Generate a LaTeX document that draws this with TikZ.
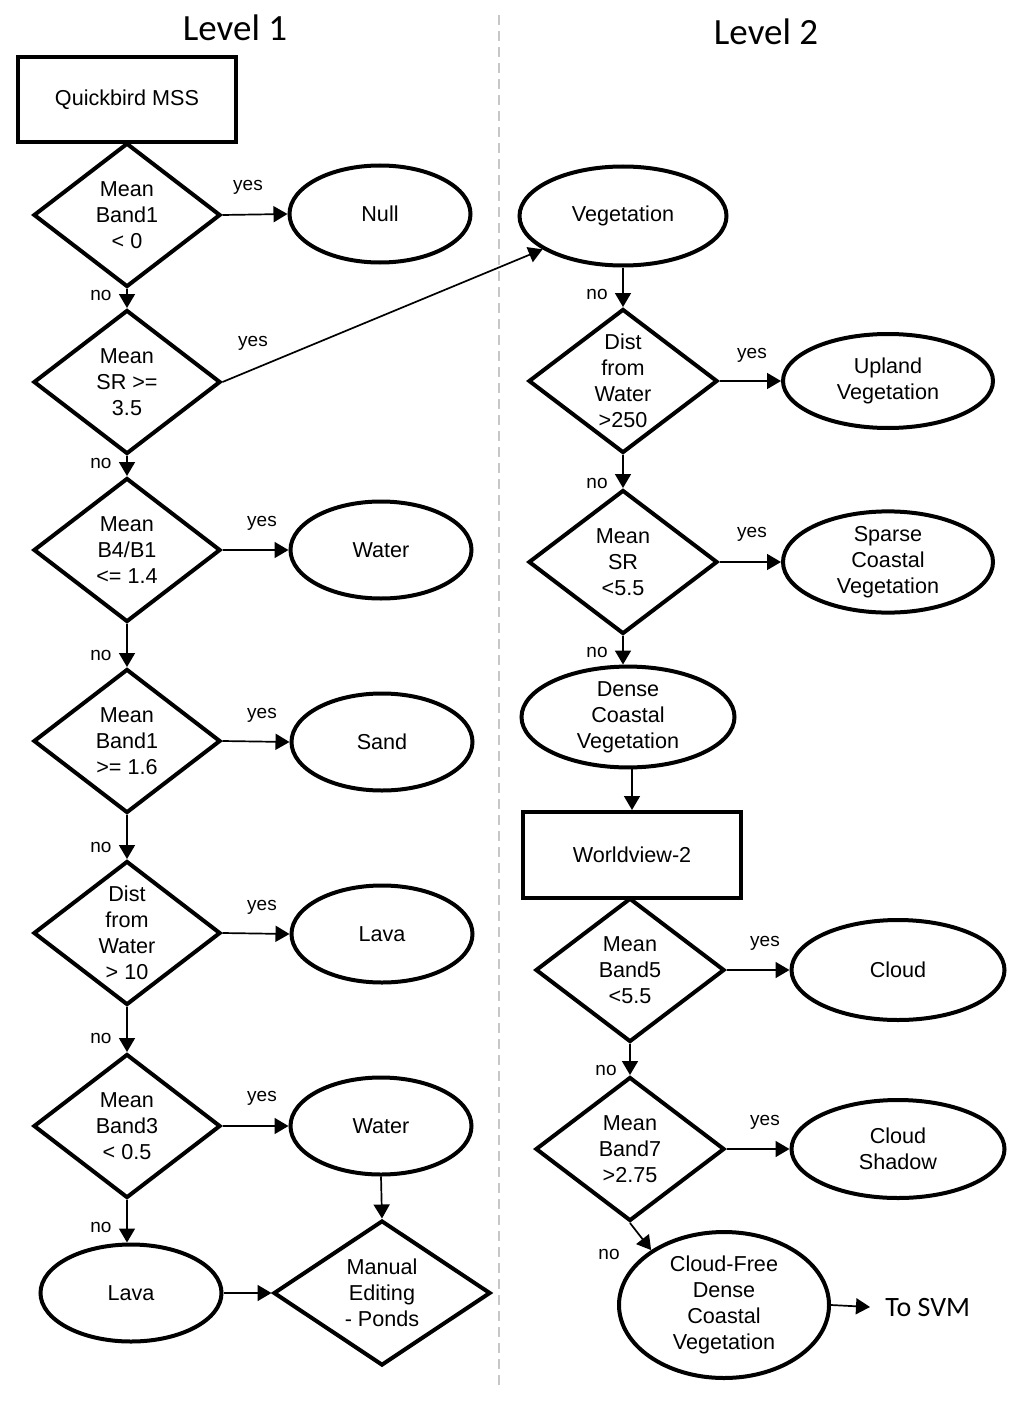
\documentclass[tikz,border=0pt]{standalone}
\usepackage{fontspec}
\setmainfont{Liberation Sans}
\newfontfamily\calib{Carlito}
\usetikzlibrary{shapes.geometric,arrows.meta}
\begin{document}
\begin{tikzpicture}[x=0.5pt,y=-0.5pt,
  base/.style={draw, line width=2pt, inner sep=0pt, align=center, font=\fontsize{10.8}{13}\selectfont},
  dec/.style={base, diamond, aspect=1.3, minimum width=93.5pt, minimum height=72pt},
  term/.style={base, ellipse, minimum width=90.5pt, minimum height=48.5pt},
  box/.style={base, rectangle, minimum width=109pt, minimum height=42.5pt},
  conn/.style={line width=0.85pt, -{Triangle[length=7pt,width=8pt]}},
  lbl/.style={font=\fontsize{9.5}{11}\selectfont, inner sep=0pt},
  title/.style={font=\calib\fontsize{18.5}{22}\selectfont, inner sep=0pt}]
\useasboundingbox (0,0) rectangle (1024,1407);

% divider
\coordinate (divtop) at (499,15);
\coordinate (divbot) at (499,1390);
\draw[black!22, line width=0.75pt, dash pattern=on 5pt off 3pt] (divtop) -- (divbot);

% titles
\node[title] (lev1) at (235,28) {Level 1};
\node[title] (lev2) at (766,32) {Level 2};

% ---------- Level 1 ----------
\node[box] (qb) at (127,100) {Quickbird MSS};
\node[dec] (d1) at (127,215) {Mean\\Band1\\< 0};
\node[term] (null) at (380,214) {Null};
\node[dec] (d2) at (127,382) {Mean\\SR >=\\3.5};
\node[dec] (d3) at (127,550) {Mean\\B4/B1\\<= 1.4};
\node[term] (water1) at (381,550) {Water};
\node[dec] (d4) at (127,741) {Mean\\Band1\\>= 1.6};
\node[term] (sand) at (382,742) {Sand};
\node[dec] (d5) at (127,933) {Dist\\from\\Water\\> 10};
\node[term] (lava1) at (382,934) {Lava};
\node[dec] (d6) at (127,1126) {Mean\\Band3\\< 0.5};
\node[term] (water2) at (381,1126) {Water};
\node[term] (lava2) at (131,1293) {Lava};
\node[dec, minimum width=108.5pt, minimum height=72.5pt] (manual) at (382,1293) {Manual\\Editing\\- Ponds};

% ---------- Level 2 ----------
\node[term, minimum width=103.5pt, minimum height=49.5pt] (veg) at (623,216) {Vegetation};
\node[dec, minimum width=94.5pt] (r1) at (623,381) {Dist\\from\\Water\\>250};
\node[term, minimum width=105pt, minimum height=47pt] (upland) at (888,381) {Upland\\Vegetation};
\node[dec, minimum width=94.5pt] (r2) at (623,562) {Mean\\SR\\<5.5};
\node[term, minimum width=105pt, minimum height=48pt] (sparse) at (888,562) {Sparse\\Coastal\\Vegetation};
\node[term, minimum width=106.5pt, minimum height=49.5pt] (dense) at (628,717) {Dense\\Coastal\\Vegetation};
\node[box, minimum height=43pt] (wv) at (632,855) {Worldview-2};
\node[dec, minimum width=94.5pt] (r3) at (630,970) {Mean\\Band5\\<5.5};
\node[term, minimum width=106.5pt, minimum height=50pt] (cloud) at (898,970) {Cloud};
\node[dec, minimum width=94.5pt] (r4) at (630,1149) {Mean\\Band7\\>2.75};
\node[term, minimum width=106.5pt, minimum height=49pt] (shadow) at (898,1149) {Cloud\\Shadow};
\node[term, minimum width=105pt, minimum height=73pt] (cf) at (724,1305) {Cloud-Free\\Dense\\Coastal\\Vegetation};
\node[anchor=west, font=\calib\fontsize{14}{16}\selectfont, inner xsep=7.5pt, inner ysep=0pt] (svm) at (870,1307) {To SVM};

% ---------- connectors, Level 1 ----------
\draw[conn] (d1.east) -- (null.west);
\draw[conn] (d1.south) -- (d2.north);
\draw[conn] (d2.east) -- (veg);
\draw[conn] (d2.south) -- (d3.north);
\draw[conn] (d3.east) -- (water1.west);
\draw[conn] (d3.south) -- (d4.north);
\draw[conn] (d4.east) -- (sand.west);
\draw[conn] (d4.south) -- (d5.north);
\draw[conn] (d5.east) -- (lava1.west);
\draw[conn] (d5.south) -- (d6.north);
\draw[conn] (d6.east) -- (water2.west);
\draw[conn] (d6.south) -- (d6.south |- lava2.north);
\draw[conn] (water2.south) -- (manual.north);
\draw[conn] (lava2.east) -- (manual.west);

% ---------- connectors, Level 2 ----------
\draw[conn] (veg.south) -- (r1.north);
\draw[conn] (r1.east) -- (upland.west);
\draw[conn] (r1.south) -- (r2.north);
\draw[conn] (r2.east) -- (sparse.west);
\draw[conn] (r2.south) -- (r2.south |- dense.north);
\draw[conn] (wv.north |- dense.south) -- (wv.north);
\draw[conn] (r3.east) -- (cloud.west);
\draw[conn] (r3.south) -- (r4.north);
\draw[conn] (r4.east) -- (shadow.west);
\draw[conn] (r4.south) -- (cf.143);
\draw[conn] (cf.east) -- (svm.west);

% ---------- yes / no labels ----------
\node[lbl] (y1) at (248,187) {yes};
\node[lbl] (y2) at (253,343) {yes};
\node[lbl] (y3) at (262,523) {yes};
\node[lbl] (y4) at (262,715) {yes};
\node[lbl] (y5) at (262,907) {yes};
\node[lbl] (y6) at (262,1098) {yes};
\node[lbl] (y7) at (752,355) {yes};
\node[lbl] (y8) at (752,534) {yes};
\node[lbl] (y9) at (765,943) {yes};
\node[lbl] (y10) at (765,1122) {yes};

\node[lbl] (n1) at (101,295) {no};
\node[lbl] (n2) at (101,463) {no};
\node[lbl] (n3) at (101,655) {no};
\node[lbl] (n4) at (101,847) {no};
\node[lbl] (n5) at (101,1038) {no};
\node[lbl] (n6) at (101,1227) {no};
\node[lbl] (n7) at (597,294) {no};
\node[lbl] (n8) at (597,483) {no};
\node[lbl] (n9) at (597,652) {no};
\node[lbl] (n10) at (606,1070) {no};
\node[lbl] (n11) at (609,1254) {no};
\end{tikzpicture}
\end{document}
